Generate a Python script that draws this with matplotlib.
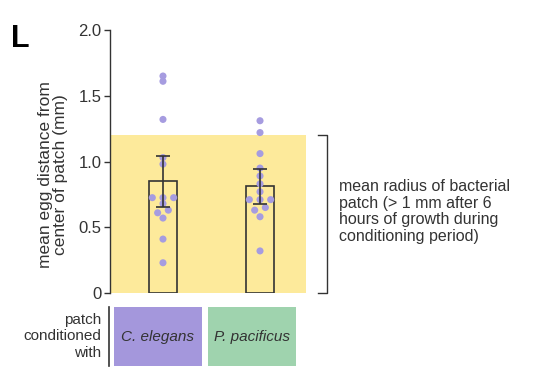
import numpy as np
import matplotlib
matplotlib.use("Agg")
import matplotlib.pyplot as plt
from matplotlib.patches import Rectangle

plt.rcParams['font.family'] = ['Liberation Sans', 'DejaVu Sans']

groups = ['C. elegans', 'P. pacificus']
ce_vals = [1.65, 1.61, 1.32, 1.03, 0.98, 0.725, 0.725, 0.725, 0.68, 0.63, 0.61, 0.57, 0.41, 0.23]
pp_vals = [1.31, 1.22, 1.06, 0.95, 0.89, 0.83, 0.77, 0.71, 0.71, 0.71, 0.65, 0.63, 0.58, 0.32]
err = [0.193, 0.13]
patch_radius = 1.2
yticks = [0, 0.5, 1.0, 1.5, 2.0]
ytick_labels = ['0', '0.5', '1.0', '1.5', '2.0']

# horizontal jitter of the dots
ce_jit = [0, 0, 0, 0, 0, -0.11, 0, 0.11, 0, 0.055, -0.055, 0, 0, 0]
pp_jit = [0, 0, 0, 0, 0, 0, 0, -0.11, 0, 0.11, 0.055, -0.055, 0, 0]

dot_col = '#a69ce0'
box_cols = ['#a497dc', '#9fd3ae']
dark = '#333333'

fig = plt.figure(figsize=(5.4, 3.68), dpi=100)
ax = fig.add_axes([110/540, 1-293/368, 196/540, 263/368])

ax.axhspan(0, patch_radius, color='#fdea9b', zorder=0, lw=0)

means = [np.mean(ce_vals), np.mean(pp_vals)]
xs = np.arange(len(groups))
ax.bar(xs, means, width=0.29, facecolor='none', edgecolor=dark, linewidth=1.2, zorder=2)

for i, (vals, jit) in enumerate([(ce_vals, ce_jit), (pp_vals, pp_jit)]):
    ax.scatter(np.array(jit) + i, vals, s=26, color=dot_col, edgecolors='none', zorder=3)

ax.errorbar(xs, means, yerr=err, fmt='none', ecolor=dark, elinewidth=1.2,
            capsize=5, capthick=1.2, zorder=4)

ax.set_xlim(-0.546, 1.474)
ax.set_ylim(0, 2.0)
ax.set_yticks(yticks)
ax.set_yticklabels(ytick_labels, fontsize=12, color=dark)
ax.tick_params(axis='y', length=4, width=1, color=dark, pad=2)
ax.set_xticks([])
for s in ['top', 'right', 'bottom']:
    ax.spines[s].set_visible(False)
ax.spines['left'].set_color(dark)
ax.spines['left'].set_linewidth(1)
ax.spines['left'].set_bounds(0, 2.0)

fig.text(53/540, 1-175/368, 'mean egg distance from\ncenter of patch (mm)', rotation=90,
         fontsize=12.5, color=dark, ha='center', va='center', linespacing=1.05,
         multialignment='center')

# bracket for the patch radius
bx = 1.686
ax.plot([bx - 0.088, bx, bx, bx - 0.088], [patch_radius, patch_radius, 0, 0],
        color=dark, lw=1, clip_on=False)
ax.text(bx + 0.13, 0.62,
        'mean radius of bacterial\npatch (> 1 mm after 6\nhours of growth during\nconditioning period)',
        fontsize=11.5, color=dark, va='center', ha='left', linespacing=1.15)

fig.text(11/540, 1-39/368, 'L', fontsize=22, fontweight='bold', va='center', ha='left')

# condition boxes below
bax = fig.add_axes([110/540, 1-366/368, 196/540, 59/368])
bax.set_xlim(ax.get_xlim())
bax.set_ylim(0, 1)
bax.axis('off')
box_x = [-0.502, 0.467]
box_w = 0.9
for i, g in enumerate(groups):
    bax.add_patch(Rectangle((box_x[i], 0), box_w, 1, facecolor=box_cols[i], edgecolor='none'))
    bax.text(box_x[i] + box_w / 2, 0.5, g, style='italic', fontsize=11, color=dark,
             ha='center', va='center')
bax.plot([-0.56, -0.56], [0, 1], color=dark, lw=1.2, clip_on=False)
bax.text(-0.635, 0.5, 'patch\nconditioned\nwith', fontsize=11, color=dark,
         ha='right', va='center', linespacing=1.25)

fig.savefig('out.png', dpi=100)
